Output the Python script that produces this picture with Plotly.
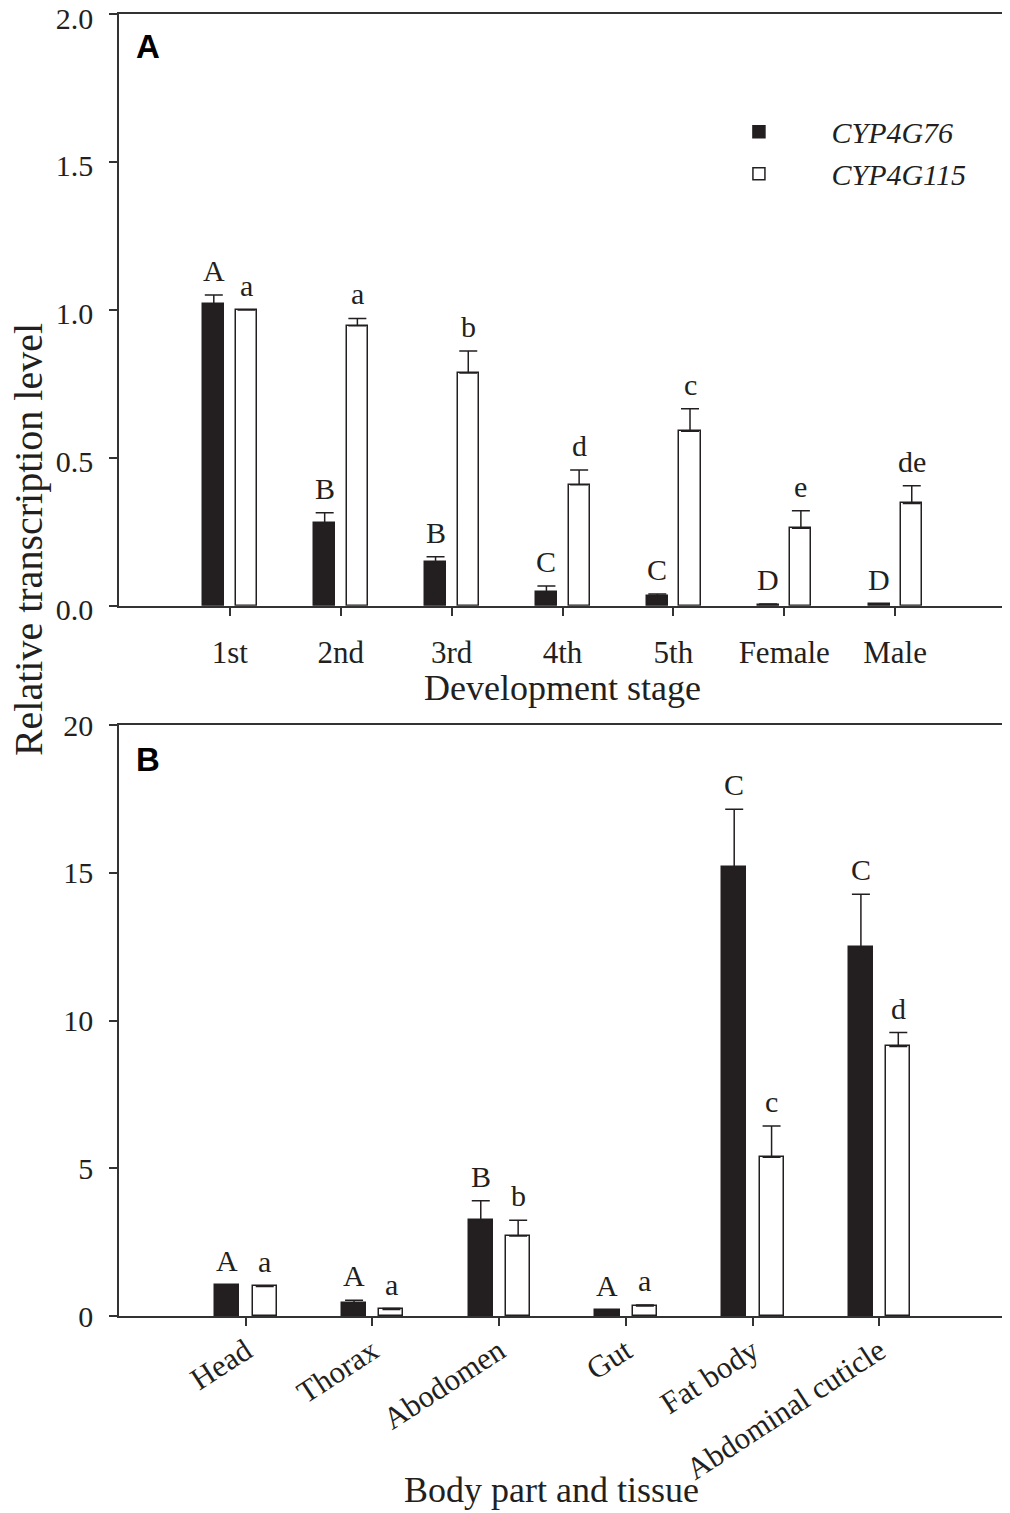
import plotly.graph_objects as go

# Panel A - development stages
stages = ['1st', '2nd', '3rd', '4th', '5th', 'Female', 'Male']
stage_g76 = [1.02, 0.28, 0.148, 0.046, 0.034, 0.004, 0.005]
stage_g76_err = [0.03, 0.034, 0.018, 0.021, 0.006, 0.002, 0.002]
stage_g115 = [1.0, 0.946, 0.787, 0.409, 0.590, 0.262, 0.346]
stage_g115_err = [0.0, 0.025, 0.074, 0.050, 0.076, 0.059, 0.060]
stage_g76_letters = ['A', 'B', 'B', 'C', 'C', 'D', 'D']
stage_g115_letters = ['a', 'a', 'b', 'd', 'c', 'e', 'de']

# Panel B - body parts and tissues
tissues = ['Head', 'Thorax', 'Abodomen', 'Gut', 'Fat body', 'Abdominal cuticle']
tissue_g76 = [1.04, 0.45, 3.25, 0.19, 15.2, 12.5]
tissue_g76_err = [0.02, 0.08, 0.65, 0.02, 1.95, 1.77]
tissue_g115 = [1.0, 0.22, 2.71, 0.34, 5.37, 9.12]
tissue_g115_err = [0.0, 0.03, 0.53, 0.03, 1.06, 0.47]
tissue_g76_letters = ['A', 'A', 'B', 'A', 'C', 'C']
tissue_g115_letters = ['a', 'a', 'b', 'a', 'c', 'd']

serif = 'Liberation Serif'
ink = '#231f20'
bar_w = 0.19
off_black = -0.24
off_white = 0.055
pad = '\u00a0' * 5  # push legend text away from the swatch

fig = go.Figure()


def add_pair(cats, v1, e1, v2, e2, xa, ya, legend):
    xs = list(range(len(cats)))
    fig.add_trace(go.Bar(
        x=xs, y=v1, width=bar_w, offset=off_black, xaxis=xa, yaxis=ya,
        name=pad + 'CYP4G76', showlegend=legend,
        marker=dict(color=ink, line=dict(color=ink, width=1.5)),
        error_y=dict(type='data', array=e1, arrayminus=[0] * len(xs), symmetric=False,
                     color=ink, thickness=1.5, width=9)))
    fig.add_trace(go.Bar(
        x=xs, y=v2, width=bar_w, offset=off_white, xaxis=xa, yaxis=ya,
        name=pad + 'CYP4G115', showlegend=legend,
        marker=dict(color='white', line=dict(color=ink, width=1.5)),
        error_y=dict(type='data', array=e2, arrayminus=[0] * len(xs), symmetric=False,
                     color=ink, thickness=1.5, width=9)))


add_pair(stages, stage_g76, stage_g76_err, stage_g115, stage_g115_err, 'x', 'y', True)
add_pair(tissues, tissue_g76, tissue_g76_err, tissue_g115, tissue_g115_err, 'x2', 'y2', False)

# significance letters above the bars
def add_letters(vals, errs, letters, shift, xr, yr, ys):
    for i, (v, e, t) in enumerate(zip(vals, errs, letters)):
        fig.add_annotation(x=i + shift, y=v + e, xref=xr, yref=yr, text=t,
                           showarrow=False, yanchor='bottom', yshift=ys,
                           font=dict(family=serif, size=30, color=ink))


mid_b = off_black + bar_w / 2
mid_w = off_white + bar_w / 2
add_letters(stage_g76, stage_g76_err, stage_g76_letters, mid_b, 'x', 'y', 6)
add_letters(stage_g115, stage_g115_err, stage_g115_letters, mid_w, 'x', 'y', 6)
add_letters(tissue_g76, tissue_g76_err, tissue_g76_letters, mid_b, 'x2', 'y2', 6)
add_letters(tissue_g115, tissue_g115_err, tissue_g115_letters, mid_w, 'x2', 'y2', 6)

axis_common = dict(showline=True, linecolor='#333333', linewidth=1.5, mirror=True,
                   ticks='outside', ticklen=8, tickwidth=1.5, tickcolor='#333333',
                   showgrid=False, zeroline=False, automargin=False,
                   ticklabeloverflow='allow',
                   tickfont=dict(family=serif, size=31, color=ink))
ytick_font = dict(family=serif, size=30, color=ink)

# the page adds an 8px body margin, so the figure is sized to fill the rest
fig.update_layout(
    width=1002, height=1505,
    paper_bgcolor='white', plot_bgcolor='white',
    margin=dict(l=111, r=4, t=6, b=197, autoexpand=False),
    bargap=0,
    xaxis=dict(axis_common, domain=[0, 1], anchor='y', range=[-1, 7],
               tickvals=list(range(len(stages))), ticktext=stages, ticklabelstandoff=10),
    yaxis=dict(axis_common, domain=[0.5455, 1], anchor='x', range=[0, 2],
               tickvals=[0, 0.5, 1.0, 1.5, 2.0], ticktext=['0.0', '0.5', '1.0', '1.5', '2.0'],
               ticklabelstandoff=10, ticklabelshift=4, tickfont=ytick_font),
    xaxis2=dict(axis_common, domain=[0, 1], anchor='y2', range=[-1, 6],
                tickvals=list(range(len(tissues))), ticktext=tissues, tickangle=-33,
                ticklabelstandoff=-5),
    yaxis2=dict(axis_common, domain=[0, 0.4539], anchor='x2', range=[0, 20],
                tickvals=[0, 5, 10, 15, 20], ticklabelstandoff=10, tickfont=ytick_font),
    legend=dict(x=0.682, y=0.9296, xanchor='left', yanchor='top', bgcolor='rgba(0,0,0,0)',
                font=dict(family=serif, size=30, color=ink, style='italic'),
                itemwidth=60, traceorder='normal'),
)

# panel letters and axis titles
fig.add_annotation(x=0.017, y=0.991, xref='paper', yref='paper', text='<b>A</b>',
                   showarrow=False, xanchor='left', yanchor='top',
                   font=dict(family='Liberation Sans', size=33, color='black'))
fig.add_annotation(x=0.017, y=0.443, xref='paper', yref='paper', text='<b>B</b>',
                   showarrow=False, xanchor='left', yanchor='top',
                   font=dict(family='Liberation Sans', size=33, color='black'))
fig.add_annotation(x=0.5, y=0.4823, xref='paper', yref='paper', text='Development stage',
                   showarrow=False, xanchor='center', yanchor='middle',
                   font=dict(family=serif, size=36, color=ink))
fig.add_annotation(x=0.488, y=-0.1336, xref='paper', yref='paper', text='Body part and tissue',
                   showarrow=False, xanchor='center', yanchor='middle',
                   font=dict(family=serif, size=36, color=ink))
fig.add_annotation(x=-0.1025, y=0.596, xref='paper', yref='paper',
                   text='Relative transcription level', textangle=-90,
                   showarrow=False, xanchor='center', yanchor='middle',
                   font=dict(family=serif, size=40, color=ink))

fig.write_html("out.html")
